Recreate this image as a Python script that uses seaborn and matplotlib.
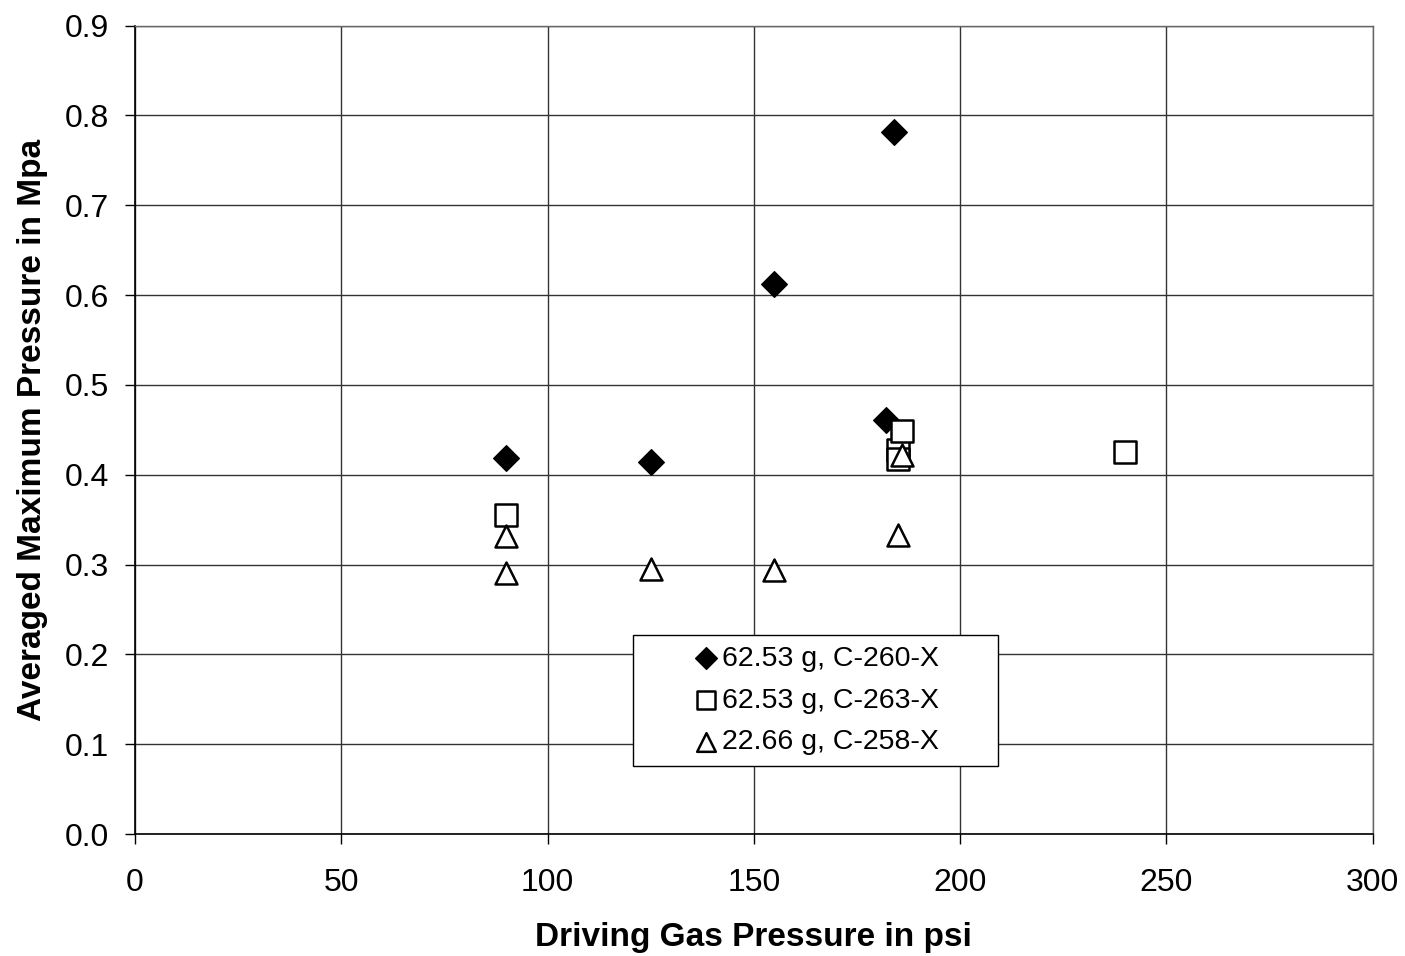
import matplotlib
matplotlib.use("Agg")
import matplotlib.pyplot as plt
from matplotlib.patches import Rectangle
import seaborn as sns

sns.set_theme(style="white")
plt.rcParams['font.family'] = ['Liberation Sans', 'DejaVu Sans']
plt.rcParams['text.color'] = 'black'
plt.rcParams['axes.labelcolor'] = 'black'
plt.rcParams['xtick.color'] = 'black'
plt.rcParams['ytick.color'] = 'black'

# Data
s1_label = "62.53 g, C-260-X"
s1_x = [90, 125, 155, 182, 184]
s1_y = [0.419, 0.414, 0.612, 0.461, 0.781]

s2_label = "62.53 g, C-263-X"
s2_x = [90, 185, 185, 186, 240]
s2_y = [0.355, 0.428, 0.418, 0.449, 0.425]

s3_label = "22.66 g, C-258-X"
s3_x = [90, 90, 125, 155, 185, 186]
s3_y = [0.332, 0.291, 0.295, 0.294, 0.333, 0.422]

x_ticks = [0, 50, 100, 150, 200, 250, 300]
y_ticks = [0.0, 0.1, 0.2, 0.3, 0.4, 0.5, 0.6, 0.7, 0.8, 0.9]

fig = plt.figure(figsize=(14.05, 9.56), dpi=100)
ax = fig.add_axes([0.0961, 0.1276, 0.977 - 0.0961, 0.9733 - 0.1276])

sns.scatterplot(x=s1_x, y=s1_y, marker='D', s=170, color='black',
                edgecolor='black', linewidth=1, ax=ax, label=s1_label, zorder=3)
sns.scatterplot(x=s2_x, y=s2_y, marker='s', s=250, facecolor='white',
                edgecolor='black', linewidth=1.8, ax=ax, label=s2_label, zorder=3)
sns.scatterplot(x=s3_x, y=s3_y, marker='^', s=250, facecolor='white',
                edgecolor='black', linewidth=1.8, ax=ax, label=s3_label, zorder=3)

ax.set_xlim(0, 300)
ax.set_ylim(0, 0.9)
ax.set_xticks(x_ticks)
ax.set_yticks(y_ticks)
ax.set_yticklabels([f"{v:.1f}" for v in y_ticks])
ax.grid(True, color='#333333', linewidth=1)
ax.set_axisbelow(True)
ax.tick_params(axis='both', labelsize=23, direction='out', length=7.5,
               width=1, color='black', left=True, bottom=True)
ax.tick_params(axis='y', pad=11)
ax.tick_params(axis='x', pad=17)
for side in ['top', 'right']:
    ax.spines[side].set_color('#666666')
    ax.spines[side].set_linewidth(1)
for side in ['left', 'bottom']:
    ax.spines[side].set_color('black')
    ax.spines[side].set_linewidth(1.2)

ax.set_xlabel("Driving Gas Pressure in psi", fontsize=24, fontweight='bold', labelpad=17)
ax.set_ylabel("Averaged Maximum Pressure in Mpa", fontsize=24, fontweight='bold', labelpad=12)

# legend box
box = Rectangle((0.402, 0.084), 0.295, 0.162, transform=ax.transAxes,
                facecolor='white', edgecolor='black', linewidth=1, zorder=4)
ax.add_patch(box)
leg = ax.legend(loc='center', bbox_to_anchor=(0.5495, 0.165),
                fontsize=20.5, frameon=False, handletextpad=0.05, handlelength=1.0,
                borderpad=0.2, labelspacing=0.55, markerscale=0.85)
leg.set_zorder(5)

fig.savefig("out.png", dpi=100)
